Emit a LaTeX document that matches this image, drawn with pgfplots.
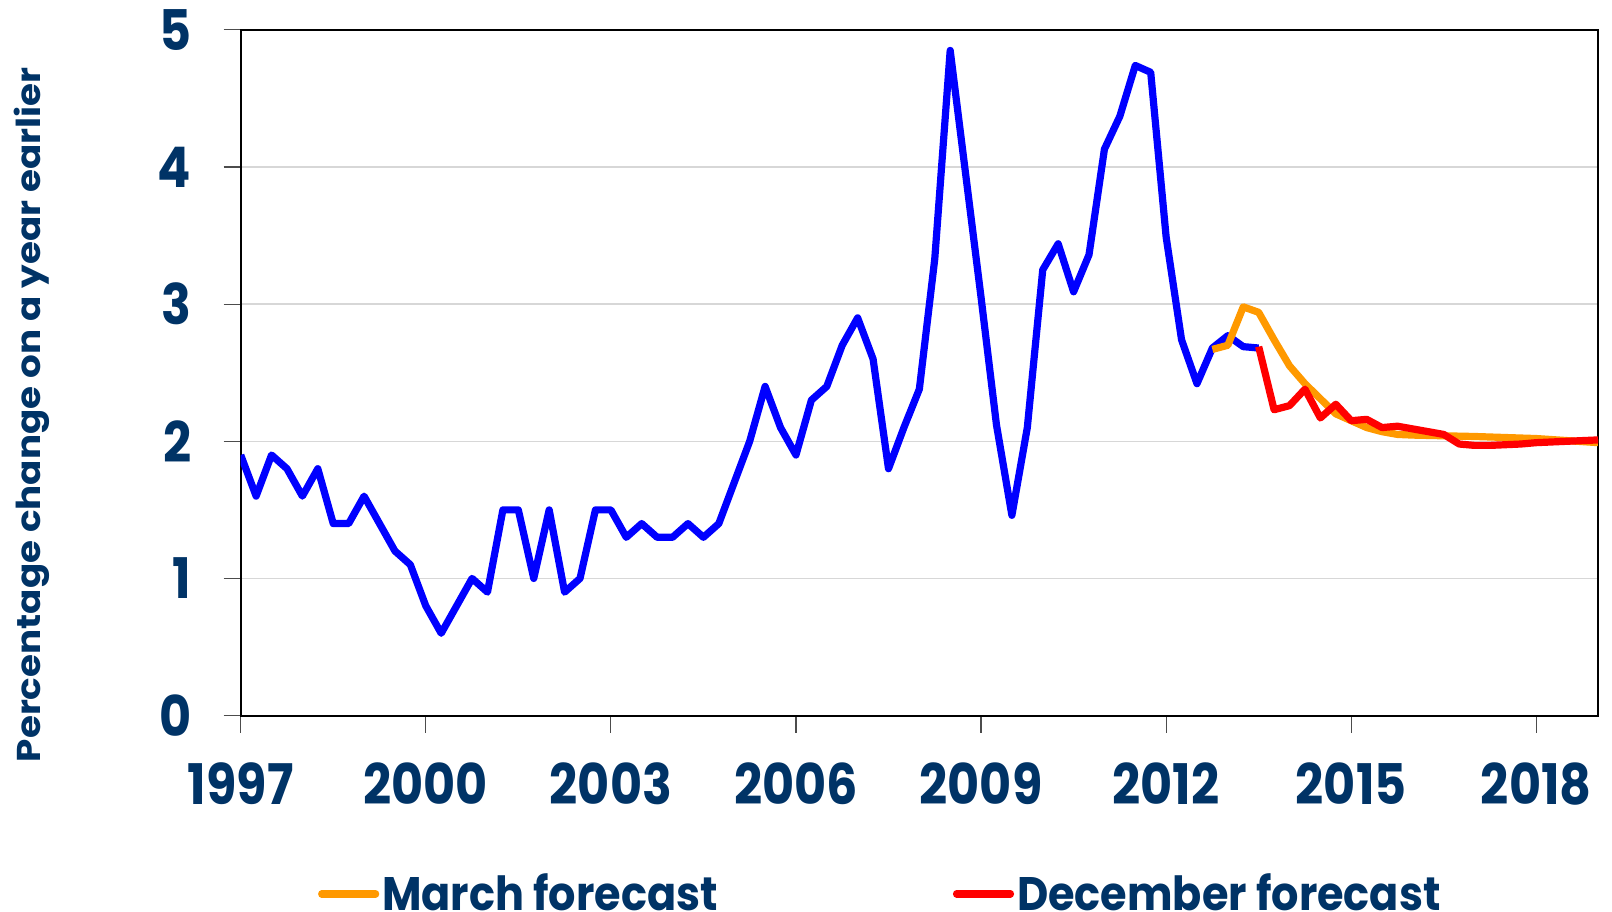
\documentclass[border=0pt]{standalone}
\usepackage{pgfplots}
\pgfplotsset{compat=1.18}
\usepackage{fontspec}
\setmainfont{Poppins}
\definecolor{navy}{RGB}{0,51,102}
\definecolor{cblue}{RGB}{0,0,255}
\definecolor{corange}{RGB}{255,153,0}
\definecolor{cred}{RGB}{255,0,0}
\definecolor{cgrid}{RGB}{215,215,215}
\begin{document}
\begin{tikzpicture}[x=1pt,y=1pt]
\path[use as bounding box] (-120.35,-97.7) rectangle (685.65,357.8);
\begin{axis}[
  at={(0,0)}, anchor=south west,
  scale only axis, width=678.65pt, height=342.9pt,
  xmin=1997, xmax=2019, ymin=0, ymax=5,
  xtick={1997,2000,2003,2006,2009,2012,2015,2018},
  ytick={0,1,2,3,4,5},
  /pgf/number format/1000 sep={},
  /pgf/number format/assume math mode=true,
  tick align=outside,
  major tick length=8.5pt,
  tick style={color=black!70, line width=0.6pt},
  xtick pos=bottom, ytick pos=left,
  axis line style={black, line width=1.1pt},
  ymajorgrids, grid style={cgrid, line width=0.7pt},
  ticklabel style={font=\fontsize{28}{30}\selectfont\bfseries\addfontfeature{FakeStretch=0.88}, text=navy, inner sep=0pt},
  xticklabel style={anchor=north, yshift=-15pt},
  yticklabel style={anchor=east, xshift=-16pt},
  ylabel={Percentage change on a year earlier},
  ylabel style={at={(axis description cs:-0.1474,0.4386)}, anchor=base, font=\fontsize{16.5}{18}\selectfont\bfseries\addfontfeature{FakeStretch=1.13}, text=navy, inner sep=0pt},
  legend columns=2,
  legend style={draw=none, fill=none, inner sep=0pt, outer sep=0pt,
    at={(axis description cs:0.057,-0.2600)}, anchor=west,
    font=\fontsize{23.5}{25}\selectfont\bfseries\addfontfeature{FakeStretch=0.915}, text=navy,
    /tikz/every even column/.append style={column sep=116pt},
    nodes={inner sep=1.5pt}},
  legend image code/.code={\draw[#1, line cap=round] (0pt,0pt) -- (27pt,0pt);},
  every axis plot/.append style={line width=3.6pt, line join=round},
]
\addplot[cblue, forget plot] table {
x y
1997.00 1.90
1997.25 1.60
1997.50 1.90
1997.75 1.80
1998.00 1.60
1998.25 1.80
1998.50 1.40
1998.75 1.40
1999.00 1.60
1999.25 1.40
1999.50 1.20
1999.75 1.10
2000.00 0.80
2000.25 0.60
2000.50 0.80
2000.75 1.00
2001.00 0.90
2001.25 1.50
2001.50 1.50
2001.75 1.00
2002.00 1.50
2002.25 0.90
2002.50 1.00
2002.75 1.50
2003.00 1.50
2003.25 1.30
2003.50 1.40
2003.75 1.30
2004.00 1.30
2004.25 1.40
2004.50 1.30
2004.75 1.40
2005.00 1.70
2005.25 2.00
2005.50 2.40
2005.75 2.10
2006.00 1.90
2006.25 2.30
2006.50 2.40
2006.75 2.70
2007.00 2.90
2007.25 2.60
2007.50 1.80
2007.75 2.10
2008.00 2.38
2008.25 3.33
2008.50 4.85
2008.75 3.95
2009.00 3.05
2009.25 2.12
2009.50 1.46
2009.75 2.10
2010.00 3.25
2010.25 3.44
2010.50 3.09
2010.75 3.36
2011.00 4.13
2011.25 4.37
2011.50 4.74
2011.75 4.69
2012.00 3.49
2012.25 2.74
2012.50 2.42
2012.75 2.68
2013.00 2.77
2013.25 2.69
2013.50 2.68
};
\addplot[corange] table {
x y
2012.75 2.67
2013.00 2.70
2013.25 2.98
2013.50 2.94
2013.75 2.74
2014.00 2.55
2014.25 2.42
2014.50 2.31
2014.75 2.20
2015.00 2.15
2015.25 2.10
2015.50 2.07
2015.75 2.05
2016.00 2.045
2017.00 2.035
2018.00 2.02
2019.00 1.99
};
\addlegendentry{March forecast}
\addplot[cred] table {
x y
2013.50 2.69
2013.75 2.23
2014.00 2.26
2014.25 2.38
2014.50 2.17
2014.75 2.27
2015.00 2.15
2015.25 2.16
2015.50 2.10
2015.75 2.11
2016.00 2.09
2016.25 2.07
2016.50 2.05
2016.75 1.98
2017.00 1.97
2017.25 1.97
2017.50 1.975
2017.75 1.98
2018.00 1.99
2018.25 1.995
2018.50 2.00
2018.75 2.005
2019.00 2.01
};
\addlegendentry{December forecast}
\end{axis}
\end{tikzpicture}
\end{document}
